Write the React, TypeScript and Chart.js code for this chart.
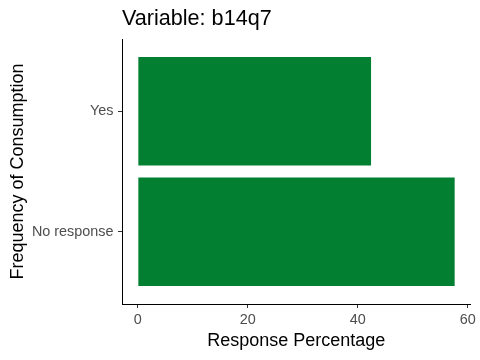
import React, { useEffect, useRef } from "react";
import { Chart, registerables } from "chart.js";

Chart.register(...registerables);

const categories = ["No response", "Yes"];
const values = [57.6, 42.4];
const xTicks = [0, 20, 40, 60];
const titleText = "Variable: b14q7";
const xTitle = "Response Percentage";
const yTitle = "Frequency of Consumption";
const barColor = "#027F31";

export default function App() {
  const ref = useRef<HTMLCanvasElement | null>(null);
  useEffect(() => {
    if (!ref.current) return;
    const font = "'Liberation Sans', Arial, sans-serif";
    const points = values.map((v, i) => ({ x: v, y: i + 1 }));
    const maxV = Math.max(...values);
    const pad = maxV * 0.05;
    const chart = new Chart(ref.current, {
      type: "bar",
      data: {
        datasets: [
          {
            data: points as any,
            backgroundColor: barColor,
            borderWidth: 0,
            borderSkipped: false,
            categoryPercentage: 1,
            barPercentage: 0.9,
          },
        ],
      },
      options: {
        indexAxis: "y",
        responsive: false,
        animation: false,
        parsing: { xAxisKey: "x", yAxisKey: "y" } as any,
        layout: { padding: { top: 0, left: 0, right: 9.5, bottom: 0 } },
        plugins: {
          legend: { display: false },
          tooltip: { enabled: false },
          title: {
            display: true,
            text: titleText,
            align: "start",
            fullSize: false,
            color: "#000",
            font: { family: font, size: 21.6, weight: "normal" },
            padding: { top: 5.6, bottom: 7.5 },
          },
        },
        scales: {
          x: {
            type: "linear",
            min: -pad,
            max: maxV + pad,
            afterBuildTicks: (s: any) => {
              s.ticks = xTicks.map((v) => ({ value: v }));
            },
            afterFit: (s: any) => {
              s.height = 56;
            },
            grid: {
              drawOnChartArea: false,
              drawTicks: true,
              tickLength: 4,
              color: "#333333",
            },
            border: { display: true, color: "#000", width: 1 },
            ticks: {
              color: "#4D4D4D",
              font: { family: font, size: 14.4 },
              padding: 3.5,
              maxRotation: 0,
            },
            title: {
              display: true,
              text: xTitle,
              color: "#000",
              font: { family: font, size: 18 },
              padding: { top: 0, bottom: 8 },
            },
          },
          y: {
            type: "linear",
            min: 0.4,
            max: 2.6,
            offset: false,
            afterBuildTicks: (s: any) => {
              s.ticks = categories.map((_, i) => ({ value: i + 1 }));
            },
            afterFit: (s: any) => {
              s.width = 122;
            },
            grid: {
              offset: false,
              drawOnChartArea: false,
              drawTicks: true,
              tickLength: 4,
              color: "#333333",
            },
            border: { display: true, color: "#000", width: 1 },
            ticks: {
              color: "#4D4D4D",
              font: { family: font, size: 14.4 },
              padding: 4.5,
              callback: (v: any) => categories[Math.round(Number(v)) - 1] ?? "",
            },
            title: {
              display: true,
              text: yTitle,
              color: "#000",
              font: { family: font, size: 18 },
              padding: { top: 7.5, bottom: 0 },
            },
          },
        },
      },
    });
    return () => chart.destroy();
  }, []);
  return (
    <div style={{ position: "fixed", left: 0, top: 0, width: 480, height: 360, background: "#fff" }}>
      <canvas ref={ref} width={480} height={360} style={{ display: "block" }} />
    </div>
  );
}
